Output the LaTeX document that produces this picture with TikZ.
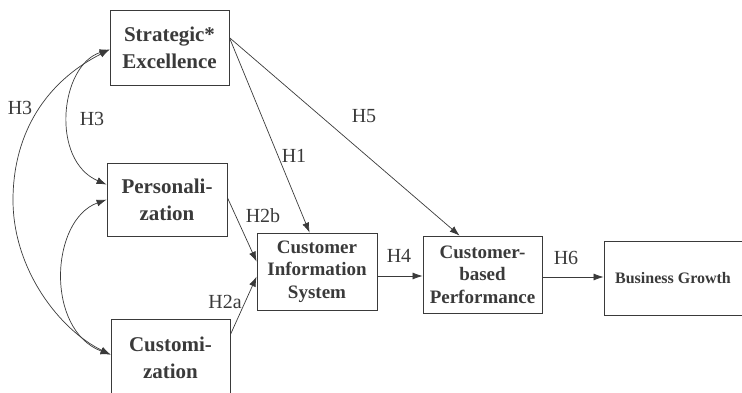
\documentclass[tikz,border=0pt]{standalone}
\usepackage{fontspec}
\setmainfont{Liberation Serif}
\usetikzlibrary{arrows.meta,calc}
\definecolor{ink}{HTML}{3A3A3A}
\tikzset{
  box/.style={draw=ink, line width=0.8pt, inner sep=0pt, align=center, text=ink,
              font=\bfseries\fontsize{21}{27}\selectfont},
  boxs/.style={box, font=\bfseries\fontsize{19}{22.5}\selectfont},
  link/.style={draw=ink, line width=0.7pt, -{Latex[length=10pt,width=7pt]}},
  both/.style={draw=ink, line width=0.7pt, {Latex[length=10pt,width=7pt]}-{Latex[length=10pt,width=7pt]}},
  hyp/.style={text=ink, font=\fontsize{20}{22}\selectfont, inner sep=0pt}
}
\begin{document}
\begin{tikzpicture}[x=1pt,y=-1pt]
\useasboundingbox (0,0) rectangle (742,393);
\clip (0,0) rectangle (742,393);

% constructs
\node[box, minimum width=119pt, minimum height=75pt] (se) at (169.5,47.5) {Strategic*\\Excellence};
\node[box, minimum width=120pt, minimum height=73pt] (pe) at (167,199.5) {Personali-\\zation};
\node[box, minimum width=119pt, minimum height=77pt] (cu) at (170.5,357.5) {Customi-\\zation};
\node[boxs, minimum width=120pt, minimum height=77pt] (cis) at (317,271.5) {Customer\\Information\\System};
\node[boxs, minimum width=119pt, minimum height=77pt] (cbp) at (482.5,274.5) {Customer-\\based\\Performance};
\node[box, font=\bfseries\fontsize{16}{20}\selectfont, minimum width=138pt, minimum height=74pt] (bg) at (673,278) {Business Growth};

% anchor points on the box borders
\coordinate (seR) at ([yshift=-28pt]se.north east);
\coordinate (seL) at ([yshift=-40pt]se.north west);
\coordinate (peL1) at ([yshift=-22pt]pe.north west);
\coordinate (peL2) at ([yshift=-37pt]pe.north west);
\coordinate (peR) at ([yshift=-35pt]pe.north east);
\coordinate (cuL) at ([yshift=-36pt]cu.north west);
\coordinate (cuR) at ([yshift=-16pt]cu.north east);
\coordinate (cisT) at ([xshift=53pt]cis.north west);
\coordinate (cisL1) at ([yshift=-29pt]cis.north west);
\coordinate (cisL2) at ([yshift=-44pt]cis.north west);
\coordinate (cbpT) at ([xshift=37pt]cbp.north west);

% correlations among the three antecedents
\draw[both] (seL) .. controls (40,85) and (13,140) .. (13,200)
                  .. controls (13,270) and (60,330) .. (cuL);
\draw[both] (seL) .. controls (60,65) and (50,160) .. (peL1);
\draw[both] (peL2) .. controls (50,220) and (45,330) .. (cuL);

% directed paths
\draw[link] (seR) -- (cisT);
\draw[link] (seR) -- (cbpT);
\draw[link] (peR) -- (cisL1);
\draw[link] (cuR) -- (cisL2);
\draw[link] (cis.east |- 0,276) -- (cbp.west |- 0,276);
\draw[link] (cbp.east |- 0,277) -- (bg.west |- 0,277);

% hypothesis labels
\node[hyp] (h3a) at (20,108) {H3};
\node[hyp] (h3b) at (92,119) {H3};
\node[hyp] (h1) at (294,156) {H1};
\node[hyp] (h5) at (364,116) {H5};
\node[hyp] (h2b) at (263,216) {H2b};
\node[hyp] (h2a) at (225,302) {H2a};
\node[hyp] (h4) at (399,256) {H4};
\node[hyp] (h6) at (566,258) {H6};
\end{tikzpicture}
\end{document}
